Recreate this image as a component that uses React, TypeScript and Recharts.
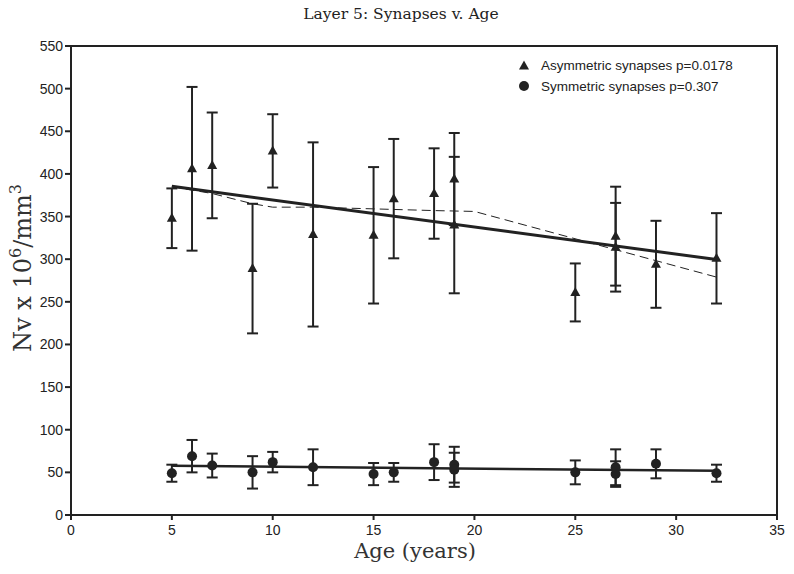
import {
  ComposedChart,
  Scatter,
  Line,
  XAxis,
  YAxis,
  ErrorBar,
  ReferenceArea,
} from 'recharts'

// ages (years) of each case
const ages = [5, 6, 7, 9, 10, 12, 15, 16, 18, 19, 19, 25, 27, 27, 29, 32]

// asymmetric synapses, Nv x 10^6/mm^3
const asymValues = [348, 406, 410, 289, 427, 329, 328, 371, 377, 394, 340, 261, 327, 314, 294, 301]
const asymErrors = [35, 96, 62, 76, 43, 108, 80, 70, 53, 54, 80, 34, 58, 52, 51, 53]

// symmetric synapses
const symValues = [49, 69, 58, 50, 62, 56, 48, 50, 62, 59, 53, 50, 56, 48, 60, 49]
const symErrors = [10, 19, 14, 19, 12, 21, 13, 11, 21, 21, 20, 14, 21, 15, 17, 10]

// regression fits
const asymFitX = [5, 32]
const asymFitY = [385.4, 299.6]
const symFitX = [5, 32]
const symFitY = [57.7, 51.8]

// smoothed trend (dashed)
const asymTrendX = [5, 7, 9, 10, 12, 15, 18, 20, 32]
const asymTrendY = [385, 377, 365, 361, 361, 359, 357, 356, 279]

const xTicks = [0, 5, 10, 15, 20, 25, 30, 35]
const yTicks = [0, 50, 100, 150, 200, 250, 300, 350, 400, 450, 500, 550]

const legendLabels = ['Asymmetric synapses p=0.0178', 'Symmetric synapses p=0.307']

const INK = '#222'
const SANS = 'Liberation Sans, Arial, sans-serif'
const SERIF = 'DejaVu Serif, serif'

const asymData = ages.map((x, i) => ({ x, y: asymValues[i], err: asymErrors[i] }))
const symData = ages.map((x, i) => ({ x, y: symValues[i], err: symErrors[i] }))
const toPts = (xs: number[], ys: number[]) => xs.map((x, i) => ({ x, y: ys[i] }))

const triPath = (cx: number, cy: number) =>
  `M${cx},${cy - 5.5} L${cx + 5},${cy + 3.5} L${cx - 5},${cy + 3.5} Z`

// eslint-disable-next-line @typescript-eslint/no-explicit-any
function Triangle({ cx, cy }: any) {
  if (cx == null || cy == null) return null
  return <path d={triPath(cx, cy)} fill={INK} />
}

// eslint-disable-next-line @typescript-eslint/no-explicit-any
function Dot({ cx, cy }: any) {
  if (cx == null || cy == null) return null
  return <circle cx={cx} cy={cy} r={5} fill={INK} />
}

const tickStyle = { fontSize: 14, fill: INK, fontFamily: SANS }

export default function App() {
  return (
    <div style={{ position: 'absolute', left: 0, top: 0, width: 794, height: 574, background: '#fff' }}>
      <ComposedChart
        width={794}
        height={574}
        margin={{ top: 46, right: 17, bottom: 29, left: 1 }}
      >
        <XAxis
          type="number"
          dataKey="x"
          domain={[0, 35]}
          ticks={xTicks}
          interval={0}
          allowDataOverflow
          tick={tickStyle}
          tickSize={5}
          tickMargin={5}
          height={30}
          axisLine={{ stroke: INK, strokeWidth: 2 }}
          tickLine={{ stroke: INK, strokeWidth: 2 }}
        />
        <YAxis
          type="number"
          domain={[0, 550]}
          ticks={yTicks}
          interval={0}
          allowDataOverflow
          tick={tickStyle}
          tickSize={6}
          width={70}
          axisLine={{ stroke: INK, strokeWidth: 2 }}
          tickLine={{ stroke: INK, strokeWidth: 2 }}
        />
        <ReferenceArea x1={0} x2={35} y1={0} y2={550} fill="none" stroke={INK} strokeWidth={2} ifOverflow="visible" />
        <Line
          data={toPts(asymTrendX, asymTrendY)}
          dataKey="y"
          type="linear"
          stroke={INK}
          strokeWidth={1}
          strokeDasharray="9 5"
          dot={false}
          isAnimationActive={false}
        />
        <Line
          data={toPts(asymFitX, asymFitY)}
          dataKey="y"
          type="linear"
          stroke={INK}
          strokeWidth={3}
          dot={false}
          isAnimationActive={false}
        />
        <Line
          data={toPts(symFitX, symFitY)}
          dataKey="y"
          type="linear"
          stroke={INK}
          strokeWidth={2.5}
          dot={false}
          isAnimationActive={false}
        />
        <Scatter data={asymData} dataKey="y" shape={<Triangle />} isAnimationActive={false}>
          <ErrorBar dataKey="err" direction="y" width={5.5} stroke={INK} strokeWidth={2} />
        </Scatter>
        <Scatter data={symData} dataKey="y" shape={<Dot />} isAnimationActive={false}>
          <ErrorBar dataKey="err" direction="y" width={5.5} stroke={INK} strokeWidth={2} />
        </Scatter>
      </ComposedChart>
      <svg
        width={794}
        height={574}
        style={{ position: 'absolute', left: 0, top: 0, pointerEvents: 'none' }}
      >
        <text x={401} y={19} textAnchor="middle" fontFamily={SERIF} fontSize={15.5} fill={INK}>
          Layer 5: Synapses v. Age
        </text>
        <text x={415} y={558} textAnchor="middle" fontFamily={SERIF} fontSize={21} fill="#333">
          Age (years)
        </text>
        <text
          transform="translate(31,268) rotate(-90)"
          textAnchor="middle"
          fontFamily={SERIF}
          fontSize={24}
          fill="#333"
        >
          Nv x 10<tspan dy={-10} fontSize={16}>6</tspan>
          <tspan dy={10}>/mm</tspan>
          <tspan dy={-10} fontSize={16}>3</tspan>
        </text>
        {/* legend */}
        <path d={triPath(524, 66)} fill={INK} />
        <text x={541} y={70} fontFamily={SANS} fontSize={13.5} fill={INK}>
          {legendLabels[0]}
        </text>
        <circle cx={524} cy={86} r={5} fill={INK} />
        <text x={541} y={91} fontFamily={SANS} fontSize={13.5} fill={INK}>
          {legendLabels[1]}
        </text>
      </svg>
    </div>
  )
}
